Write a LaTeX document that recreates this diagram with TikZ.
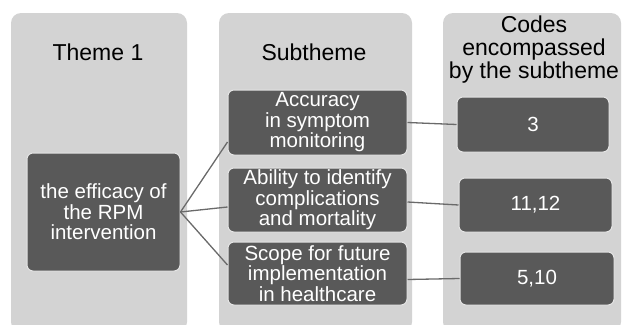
\documentclass[tikz,border=0pt]{standalone}
\usepackage{fontspec}
\setmainfont{Liberation Sans}
\definecolor{colbg}{HTML}{D3D3D3}
\definecolor{boxbg}{HTML}{595959}
\definecolor{boxedge}{HTML}{E4E4E4}
\definecolor{linec}{HTML}{6A6A6A}
\begin{document}
\begin{tikzpicture}[x=1pt,y=-1pt,
  column/.style={fill=colbg, rounded corners=10pt},
  darkbox/.style={fill=boxbg, draw=boxedge, line width=1pt, rounded corners=6pt, text=white, align=center, inner sep=0pt, font=\fontsize{20.5}{20.5}\selectfont},
  title/.style={align=center, inner sep=0pt, font=\fontsize{23}{23}\selectfont},
  conn/.style={draw=linec, line width=1.3pt}]
\useasboundingbox (0,0) rectangle (623,324);
\fill[column] (11,13) rectangle (187,332);
\fill[column] (219,13) rectangle (412,332);
\fill[column] (443,13) rectangle (621,332);
\node[title] (t1) at (98,52) {Theme 1};
\node[title] (t2) at (314,52) {Subtheme};
\node[title] (t3) at (534,50) {Codes\\encompassed\\by the subtheme};
\node[darkbox, minimum width=153pt, minimum height=118pt] (theme) at (103.5,212) {the efficacy of\\the RPM\\intervention};
\node[darkbox, minimum width=179pt, minimum height=65pt] (sub1) at (317.5,122.5) {Accuracy\\in symptom\\monitoring};
\node[darkbox, minimum width=179pt, minimum height=64pt] (sub2) at (317.5,200) {Ability to identify\\complications\\and mortality};
\node[darkbox, minimum width=179pt, minimum height=63pt] (sub3) at (317.5,273.5) {Scope for future\\implementation\\in healthcare};
\node[darkbox, minimum width=152pt, minimum height=55pt] (c1) at (533,124.5) {3};
\node[darkbox, minimum width=153pt, minimum height=54pt] (c2) at (535.5,205) {11,12};
\node[darkbox, minimum width=154pt, minimum height=53pt] (c3) at (537,278.5) {5,10};
\draw[conn] (theme.east) -- ([yshift=-19.5pt]sub1.west);
\draw[conn] (theme.east) -- ([yshift=-7pt]sub2.west);
\draw[conn] (theme.east) -- ([yshift=8.5pt]sub3.west);
\draw[conn] (sub1.east) -- (c1.west);
\draw[conn] ([yshift=-2pt]sub2.east) -- (c2.west);
\draw[conn] ([yshift=-6pt]sub3.east) -- (c3.west);
\end{tikzpicture}
\end{document}
